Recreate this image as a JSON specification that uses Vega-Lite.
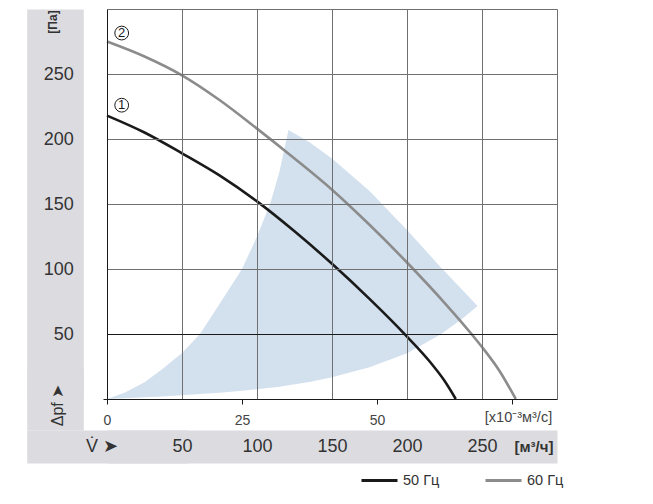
{
  "$schema": "https://vega.github.io/schema/vega-lite/v6.json",
  "width": 450,
  "height": 390,
  "autosize": {"type": "none"},
  "padding": {"left": 107, "top": 9, "right": 96, "bottom": 105},
  "background": "white",
  "config": {
    "view": {"stroke": null},
    "font": "Liberation Sans",
    "axis": {"labelFlush": false, "labelOverlap": false, "labelBound": false, "labelFont": "Liberation Sans", "titleFont": "Liberation Sans"}
  },
  "datasets": {
    "shade": [
      {"q": 0, "top": 0, "bot": 0},
      {"q": 12, "top": 5, "bot": 0.6},
      {"q": 25, "top": 12.8, "bot": 1.3},
      {"q": 37, "top": 23, "bot": 2.0},
      {"q": 50, "top": 35.4, "bot": 2.8},
      {"q": 62, "top": 50, "bot": 3.8},
      {"q": 75, "top": 73, "bot": 4.8},
      {"q": 90, "top": 100, "bot": 6.3},
      {"q": 100, "top": 125, "bot": 7.5},
      {"q": 109, "top": 151, "bot": 8.6},
      {"q": 115, "top": 175, "bot": 9.5},
      {"q": 121, "top": 207, "bot": 10.5},
      {"q": 135, "top": 197.5, "bot": 13},
      {"q": 150, "top": 185, "bot": 16.7},
      {"q": 175, "top": 160, "bot": 24.5},
      {"q": 200, "top": 130, "bot": 35.2},
      {"q": 222, "top": 102, "bot": 49.5},
      {"q": 236, "top": 85, "bot": 61},
      {"q": 247, "top": 71.5, "bot": 71.5}
    ],
    "curves": [
      {"q": 0, "p": 218, "f": "50 Гц"},
      {"q": 25, "p": 205, "f": "50 Гц"},
      {"q": 50, "p": 189, "f": "50 Гц"},
      {"q": 75, "p": 172, "f": "50 Гц"},
      {"q": 100, "p": 152, "f": "50 Гц"},
      {"q": 125, "p": 129, "f": "50 Гц"},
      {"q": 150, "p": 104, "f": "50 Гц"},
      {"q": 175, "p": 77, "f": "50 Гц"},
      {"q": 200, "p": 48, "f": "50 Гц"},
      {"q": 215, "p": 29, "f": "50 Гц"},
      {"q": 225, "p": 14, "f": "50 Гц"},
      {"q": 232.5, "p": 0, "f": "50 Гц"},
      {"q": 0, "p": 275, "f": "60 Гц"},
      {"q": 25, "p": 263.5, "f": "60 Гц"},
      {"q": 50, "p": 249, "f": "60 Гц"},
      {"q": 75, "p": 230, "f": "60 Гц"},
      {"q": 100, "p": 208, "f": "60 Гц"},
      {"q": 125, "p": 185, "f": "60 Гц"},
      {"q": 150, "p": 161, "f": "60 Гц"},
      {"q": 175, "p": 134, "f": "60 Гц"},
      {"q": 200, "p": 105, "f": "60 Гц"},
      {"q": 225, "p": 74, "f": "60 Гц"},
      {"q": 243, "p": 50, "f": "60 Гц"},
      {"q": 250, "p": 40, "f": "60 Гц"},
      {"q": 262, "p": 21, "f": "60 Гц"},
      {"q": 272.5, "p": 0, "f": "60 Гц"}
    ],
    "markers": [
      {"q": 9.8, "p": 281.5, "n": "2"},
      {"q": 9.8, "p": 226, "n": "1"}
    ]
  },
  "resolve": {"axis": {"x": "independent", "y": "independent"}},
  "layer": [
    {
      "data": {"name": "shade"},
      "mark": {"type": "area", "color": "#d3e0ee", "interpolate": "linear"},
      "encoding": {
        "x": {
          "field": "q", "type": "quantitative",
          "scale": {"domain": [0, 300], "nice": false, "zero": false},
          "axis": {
            "orient": "bottom", "values": [0, 90, 180, 270],
            "labelExpr": "datum.value == 270 ? '' : format(datum.value / 3.6, 'd')",
            "domainColor": "#1a1a1a", "domainWidth": 1,
            "tickColor": "#1a1a1a", "tickSize": 5, "tickWidth": 1,
            "labelFontSize": 14, "labelColor": "#444", "labelPadding": 9,
            "grid": false,
            "title": "[x10⁻³м³/с]", "titleX": 411, "titleY": 18.5,
            "titleAlign": "center", "titleBaseline": "middle",
            "titleFontSize": 14.5, "titleFontWeight": "normal", "titleColor": "#444",
            "zindex": 1
          }
        },
        "y": {
          "field": "top", "type": "quantitative",
          "scale": {"domain": [0, 300], "nice": false, "zero": false},
          "axis": {
            "orient": "left", "values": [0, 50, 100, 150, 200, 250, 300],
            "labels": false, "title": null,
            "domainColor": "#1a1a1a", "domainWidth": 1,
            "tickSize": 4, "tickWidth": 1,
            "tickColor": {"condition": {"test": "datum.value == 0", "value": "#1a1a1a"}, "value": "transparent"},
            "grid": true, "gridWidth": 1,
            "gridColor": {"condition": [{"test": "datum.value == 0", "value": "transparent"}, {"test": "datum.value == 50", "value": "#1a1a1a"}], "value": "#707070"},
            "zindex": 1
          }
        },
        "y2": {"field": "bot"}
      }
    },
    {
      "data": {"name": "curves"},
      "mark": {"type": "line", "strokeWidth": 2.6, "interpolate": "monotone"},
      "encoding": {
        "x": {
          "field": "q", "type": "quantitative",
          "scale": {"domain": [0, 300], "nice": false, "zero": false},
          "axis": {
            "orient": "bottom", "offset": 47.5,
            "values": [0, 50, 100, 150, 200, 250, 300],
            "labels": false,
            "domainColor": "#dcdce0", "domainWidth": 33, "domainCap": "butt",
            "ticks": false,
            "grid": true, "gridWidth": 1,
            "gridColor": {"condition": {"test": "datum.value == 0", "value": "transparent"}, "value": "#707070"},
            "title": "[м³/ч]", "titleX": 426.5, "titleY": 0,
            "titleAlign": "center", "titleBaseline": "middle",
            "titleFontSize": 15, "titleFontWeight": "bold", "titleColor": "#333",
            "zindex": 1
          }
        },
        "y": {
          "field": "p", "type": "quantitative",
          "scale": {"domain": [0, 300], "nice": false, "zero": false},
          "axis": {
            "orient": "left", "offset": 52,
            "values": [0, 50, 100, 150, 200, 250, 300],
            "labels": false,
            "domainColor": "#dcdce0", "domainWidth": 56.6, "domainCap": "butt",
            "ticks": false,
            "grid": false,
            "title": "[Па]", "titleX": -2.7, "titleY": 12.5, "titleAngle": -90,
            "titleAlign": "center", "titleBaseline": "middle",
            "titleFontSize": 12, "titleFontWeight": "bold", "titleColor": "#333",
            "zindex": 1
          }
        },
        "color": {
          "field": "f", "type": "nominal",
          "scale": {"domain": ["50 Гц", "60 Гц"], "range": ["#1a1a1a", "#8c8c8c"]},
          "legend": {
            "orient": "none", "legendX": 253, "legendY": 452,
            "direction": "horizontal", "title": null,
            "symbolType": "stroke", "symbolSize": 1296, "symbolStrokeWidth": 3,
            "labelFontSize": 14.5, "labelColor": "#333", "labelOffset": 4,
            "columnPadding": 39, "padding": 0, "labelFont": "Liberation Sans"
          }
        }
      }
    },
    {
      "data": {"name": "markers"},
      "mark": {"type": "point", "shape": "circle", "filled": false, "size": 190, "stroke": "#1a1a1a", "strokeWidth": 1, "opacity": 1},
      "encoding": {
        "x": {
          "field": "q", "type": "quantitative",
          "scale": {"domain": [0, 300], "nice": false, "zero": false},
          "axis": {
            "orient": "bottom", "offset": 31, "values": [0],
            "labels": false, "domain": false, "grid": false,
            "ticks": true, "tickSize": 33, "tickWidth": 160.6, "tickColor": "#dcdce0",
            "title": "V̇ ➤", "titleX": -5.5, "titleY": 16,
            "titleAlign": "center", "titleBaseline": "middle",
            "titleFontSize": 18, "titleFontWeight": "normal", "titleColor": "#333",
            "zindex": 2
          }
        },
        "y": {
          "field": "p", "type": "quantitative",
          "scale": {"domain": [0, 300], "nice": false, "zero": false},
          "axis": {
            "orient": "left", "offset": 23.7, "values": [0],
            "labels": false, "domain": false, "grid": false,
            "ticks": true, "tickSize": 56.6, "tickWidth": 62, "tickColor": "#dcdce0",
            "title": "Δpf ➤", "titleX": -25.8, "titleY": 396, "titleAngle": -90,
            "titleAlign": "center", "titleBaseline": "middle",
            "titleFontSize": 16, "titleFontWeight": "normal", "titleColor": "#333",
            "zindex": 2
          }
        }
      }
    },
    {
      "data": {"name": "markers"},
      "mark": {"type": "text", "fontSize": 13, "color": "#1a1a1a", "baseline": "middle", "align": "center", "font": "Liberation Sans"},
      "encoding": {
        "x": {
          "field": "q", "type": "quantitative",
          "scale": {"domain": [0, 300], "nice": false, "zero": false},
          "axis": {
            "orient": "bottom", "offset": 47.5,
            "values": [50, 100, 150, 200, 250],
            "domain": false, "ticks": false, "grid": false,
            "labelPadding": 0, "labelBaseline": "middle",
            "labelFontSize": 18, "labelColor": "#333",
            "title": null, "zindex": 3
          }
        },
        "y": {
          "field": "p", "type": "quantitative",
          "scale": {"domain": [0, 300], "nice": false, "zero": false},
          "axis": {
            "orient": "left", "offset": 52,
            "values": [50, 100, 150, 200, 250],
            "domain": false, "ticks": false, "grid": false,
            "labelPadding": -18.3, "labelAlign": "right", "labelBaseline": "middle",
            "labelFontSize": 18, "labelColor": "#333",
            "title": null, "zindex": 3
          }
        },
        "text": {"field": "n"}
      }
    }
  ]
}
